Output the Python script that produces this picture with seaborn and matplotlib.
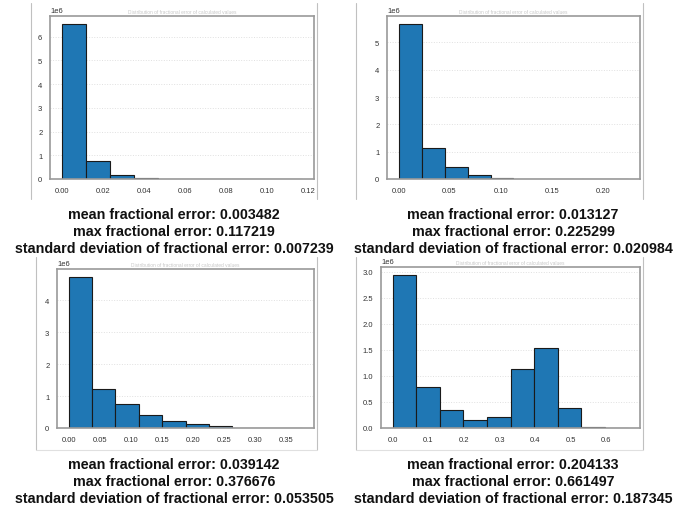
import numpy as np
import pandas as pd
import matplotlib
matplotlib.use("Agg")
import matplotlib.pyplot as plt
from matplotlib.lines import Line2D
import seaborn as sns

sns.set_style("white")
plt.rcParams['font.family'] = ['Liberation Sans', 'DejaVu Sans']

# Data: histogram counts (in units of 1e6) per bin, 10 bins from 0 to max error
max_err = [0.117219, 0.225299, 0.376676, 0.661497]
mean_err = [0.003482, 0.013127, 0.039142, 0.204133]
std_err = [0.007239, 0.020984, 0.053505, 0.187345]
counts_1 = [6.55, 0.74, 0.15, 0.04, 0.01, 0.003, 0.001, 0.0005, 0.0002, 0.0001]
counts_2 = [5.68, 1.15, 0.45, 0.16, 0.05, 0.015, 0.005, 0.001, 0.0003, 0.0001]
counts_3 = [4.74, 1.22, 0.75, 0.42, 0.22, 0.11, 0.05, 0.01, 0.002, 0.0005]
counts_4 = [2.94, 0.79, 0.35, 0.15, 0.21, 1.13, 1.54, 0.38, 0.02, 0.003]
all_counts = [counts_1, counts_2, counts_3, counts_4]

W, H = 693, 510
fig = plt.figure(figsize=(W / 100, H / 100), dpi=100)

# axes boxes in pixels: (left, top, right, bottom)
boxes = [(50, 17, 314, 180), (387, 17, 640, 180), (57, 270, 314, 429), (381, 268, 640, 429)]
text_centers = [(174, 215), (513, 215), (174, 465), (513, 465)]
frames = [(31, 317, 4, 200, None), (356, 643, 4, 200, None), (36, 317, 258, 451, 451), (356, 643, 258, 451, 451)]

for i in range(4):
    l, t, r, b = boxes[i]
    ax = fig.add_axes([l / W, 1 - b / H, (r - l) / W, (b - t) / H])
    edges = np.linspace(0, max_err[i], 11)
    centers = (edges[:-1] + edges[1:]) / 2
    df = pd.DataFrame({"err": centers, "n": np.array(all_counts[i]) * 1e6})
    sns.histplot(data=df, x="err", weights="n", bins=[float(e) for e in edges], ax=ax,
                 color="#1f77b4", alpha=1.0, edgecolor="#1a1a1a", linewidth=0.8)
    ax.set_xlabel("")
    ax.set_ylabel("")
    ax.yaxis.grid(True, linestyle=":", color="#e0e0e0", linewidth=0.7)
    ax.set_axisbelow(True)
    for s in ax.spines.values():
        s.set_color("#9a9a9a")
        s.set_linewidth(1.2)
    ax.tick_params(labelsize=5.5, colors="#333333", length=2, width=0.5)
    ax.yaxis.get_offset_text().set_fontsize(5.5)
    ax.set_title("Distribution of fractional error of calculated values", fontsize=3.5, color="#c8c8c8", pad=2)

    cx, cy = text_centers[i]
    lines = [f"mean fractional error: {mean_err[i]:.6f}",
             f"max fractional error: {max_err[i]:.6f}",
             f"standard deviation of fractional error: {std_err[i]:.6f}"]
    for k, s in enumerate(lines):
        fig.text(cx / W, 1 - (cy + 17 * k) / H, s, ha="center", va="center",
                 fontsize=10.3, fontweight="bold", color="#111111")

    x0, x1, y0, y1, yb = frames[i]
    for xx in (x0, x1):
        fig.add_artist(Line2D([xx / W, xx / W], [1 - y0 / H, 1 - y1 / H], color="#c0c0c0", linewidth=0.8))
    if yb is not None:
        fig.add_artist(Line2D([x0 / W, x1 / W], [1 - yb / H, 1 - yb / H], color="#e0e0e0", linewidth=0.8))

fig.savefig("out.png", dpi=100, facecolor="white")
